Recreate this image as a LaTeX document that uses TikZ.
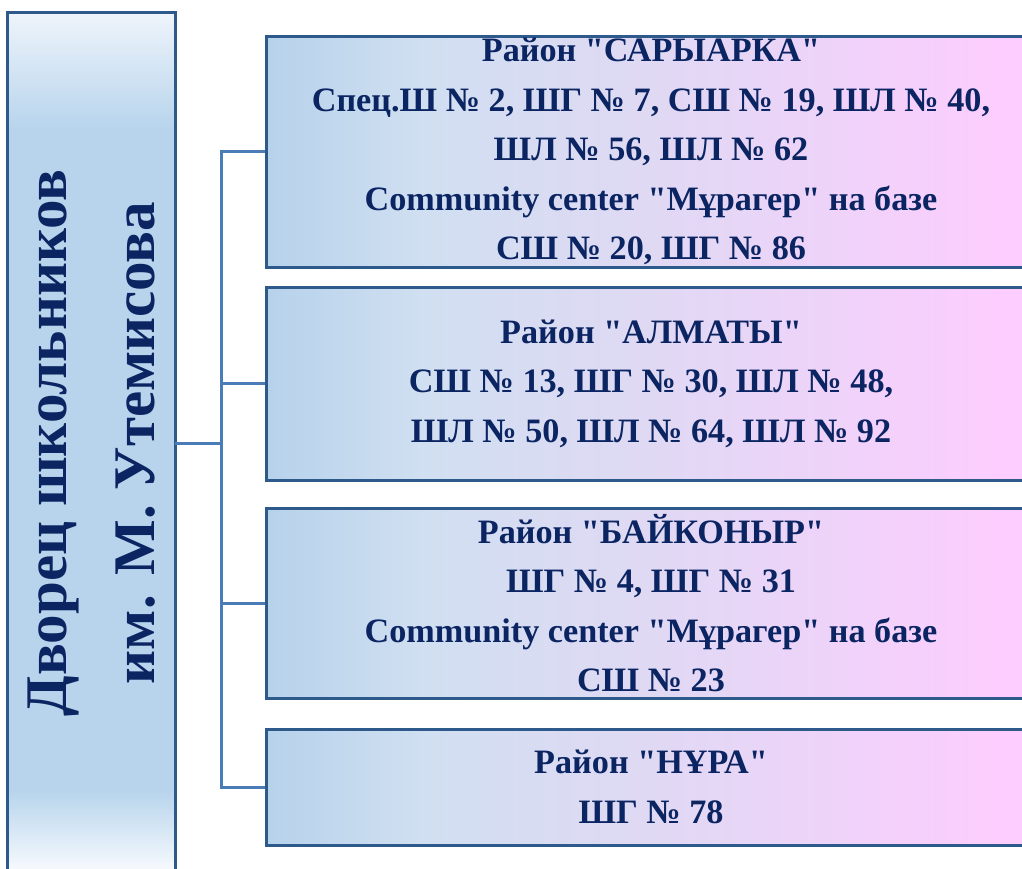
\documentclass[tikz,border=0pt]{standalone}
\usepackage{fontspec}
\setmainfont{Liberation Serif}[Ligatures=TeXOff]
\definecolor{txt}{HTML}{0B2462}
\definecolor{bord}{HTML}{2D5A8A}
\definecolor{conn}{HTML}{4A7DB8}
\definecolor{rA}{HTML}{B6D2EB}
\definecolor{rB}{HTML}{D0DFF1}
\definecolor{rC}{HTML}{E0D9F4}
\definecolor{rD}{HTML}{FFCCFF}
\definecolor{lA}{HTML}{F5F9FD}
\definecolor{lB}{HTML}{B7D4EC}
\definecolor{lC}{HTML}{EEF4FB}
\pgfdeclarehorizontalshading{rshade}{100bp}{color(0bp)=(rA); color(25bp)=(rA); color(35bp)=(rB); color(50bp)=(rC); color(75bp)=(rD); color(100bp)=(rD)}
\tikzset{
  rbox/.style={shade, shading=rshade, draw=bord, line width=3pt, rectangle, inner sep=0pt,
    minimum width=770pt},
  rtext/.style={align=center, text=txt, inner sep=0pt,
    font=\fontsize{34.2}{49.5}\selectfont\bfseries},
  lbox/.style={fill=lB, rectangle, inner sep=0pt},
  lborder/.style={draw=bord, line width=3pt},
  ltext/.style={rotate=90, align=center, text=txt, inner sep=0pt,
    font=\fontsize{59}{88}\selectfont\bfseries},
  link/.style={draw=conn, line width=3pt}
}
\begin{document}
\begin{tikzpicture}[x=1pt,y=-1pt]
\useasboundingbox (0,0) rectangle (1022,868);
\begin{scope}
\clip (0,0) rectangle (1022,868);
\node[lbox, minimum width=167pt, minimum height=860pt] (L) at (91.5,443) {};
\shade[top color=lC, bottom color=lB] (L.north west) rectangle ([yshift=-117pt]L.north east);
\shade[top color=lB, bottom color=lA] ([yshift=83pt]L.south west) rectangle ([yshift=5pt]L.south east);
\draw[lborder] (L.north west) rectangle (L.south east);
\node[ltext] (Lt) at (L.center) {Дворец школьников\\им. М. Утемисова};
\node[rbox, minimum height=231pt] (B1) at (651,151.5) {};
\node[rbox, minimum height=193pt] (B2) at (651,383.5) {};
\node[rbox, minimum height=190pt] (B3) at (651,603) {};
\node[rbox, minimum height=116pt] (B4) at (651,787) {};
\node[rtext] (T1) at (B1.center) {Район "САРЫАРКА"\\Спец.Ш № 2, ШГ № 7, СШ № 19, ШЛ № 40,\\ШЛ № 56, ШЛ № 62\\Community center "Мұрагер" на базе\\СШ № 20, ШГ № 86};
\node[rtext] (T2) at (B2.center) {Район "АЛМАТЫ"\\СШ № 13, ШГ № 30, ШЛ № 48,\\ШЛ № 50, ШЛ № 64, ШЛ № 92};
\node[rtext] (T3) at (B3.center) {Район "БАЙКОНЫР"\\ШГ № 4, ШГ № 31\\Community center "Мұрагер" на базе\\СШ № 23};
\node[rtext] (T4) at (B4.center) {Район "НҰРА"\\ШГ № 78};
\coordinate (tx) at (221,0);
\draw[link] (B1.west) -- (B1.west -| tx) -- (B4.west -| tx) -- (B4.west);
\draw[link] (B2.west) -- (B2.west -| tx);
\draw[link] (B3.west) -- (B3.west -| tx);
\draw[link] (L.east) -- (L.east -| tx);
\end{scope}
\end{tikzpicture}
\end{document}
